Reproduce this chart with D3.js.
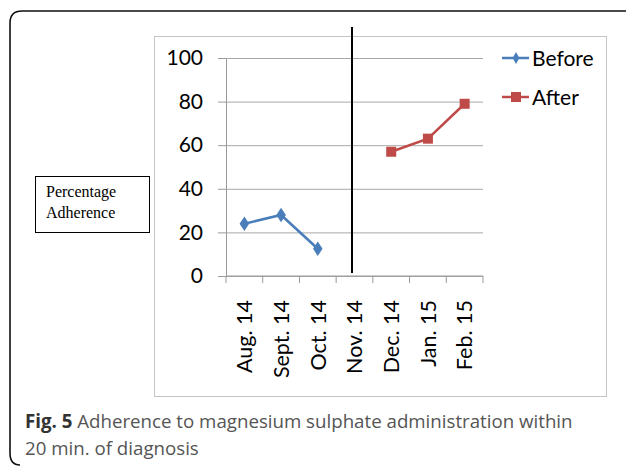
<!DOCTYPE html>
<html>
<head>
<meta charset="utf-8">
<script src="https://cdn.jsdelivr.net/npm/d3@7"></script>
<style>
    body { margin: 0; background: #fff; }
    text { font-family: Lato, "Open Sans", sans-serif; }
</style>
</head>
<body>
<div id="chart"></div>
<script>
const months = ["Aug. 14", "Sept. 14", "Oct. 14", "Nov. 14", "Dec. 14", "Jan. 15", "Feb. 15"];
const beforeMonths = ["Aug. 14", "Sept. 14", "Oct. 14"];
const beforeValues = [24, 28, 12.5];
const afterMonths = ["Dec. 14", "Jan. 15", "Feb. 15"];
const afterValues = [57, 63, 79];
const yTicks = [0, 20, 40, 60, 80, 100];
const dividerMonth = "Nov. 14";
const seriesNames = ["Before", "After"];

const seriesColor = d3.scaleOrdinal()
    .domain(seriesNames)
    .range(["#4a7ebb", "#be4b48"]);

const W = 627, H = 467;

let svg = d3.select("#chart").append("svg")
    .attr("width", W)
    .attr("height", H);

// outer figure frame (open on the right / bottom)
svg.append("path")
    .attr("d", "M626,11 L22,11 Q10,11 10,23 L10,453 Q10,465 20,465")
    .attr("fill", "none")
    .attr("stroke", "#111")
    .attr("stroke-width", 1.6);

// chart area frame
svg.append("rect")
    .attr("x", 154.5).attr("y", 36.5)
    .attr("width", 452).attr("height", 360)
    .attr("fill", "#fff")
    .attr("stroke", "#c4c4c4")
    .attr("stroke-width", 1);

let x = d3.scaleBand()
    .domain(months)
    .range([226, 483]);

let y = d3.scaleLinear()
    .domain([0, 100])
    .range([276, 58]);

// gridlines
svg.append("g")
    .attr("transform", "translate(226,0)")
    .call(d3.axisLeft(y).tickValues(yTicks).tickSize(-(483 - 226)).tickFormat(""))
    .call(g => g.select(".domain").remove())
    .call(g => g.selectAll("line").attr("stroke", "#a8a8a8"));

// y axis
svg.append("g")
    .attr("transform", "translate(226,0)")
    .call(d3.axisLeft(y).tickValues(yTicks).tickSize(8).tickPadding(15).tickSizeOuter(0))
    .call(g => g.select(".domain").attr("stroke", "#9a9a9a"))
    .call(g => g.selectAll("line").attr("stroke", "#9a9a9a"))
    .call(g => g.selectAll("text")
        .attr("fill", "#000")
        .style("font-size", "21px")
        .style("font-family", "Lato, sans-serif"));

// x axis line and ticks at band edges
svg.append("line")
    .attr("x1", 226).attr("x2", 483)
    .attr("y1", y(0)).attr("y2", y(0))
    .attr("stroke", "#9a9a9a");

let tickXs = months.map(m => x(m)).concat([x.range()[1]]);
svg.append("g")
    .selectAll("line")
    .data(tickXs)
    .join("line")
    .attr("x1", d => d).attr("x2", d => d)
    .attr("y1", y(0)).attr("y2", y(0) + 7)
    .attr("stroke", "#9a9a9a");

svg.append("g")
    .selectAll("text")
    .data(months)
    .join("text")
    .attr("transform", d => `translate(${x(d) + x.bandwidth() / 2}, 300) rotate(-90)`)
    .attr("text-anchor", "end")
    .attr("dy", "0.36em")
    .style("font-size", "21.5px")
    .text(d => d);

// divider line
svg.append("line")
    .attr("x1", x(dividerMonth) + x.bandwidth() / 2 - 2.5)
    .attr("x2", x(dividerMonth) + x.bandwidth() / 2 - 2.5)
    .attr("y1", 27).attr("y2", 273)
    .attr("stroke", "#000")
    .attr("stroke-width", 2);

let line = d3.line()
    .x(d => x(d.m) + x.bandwidth() / 2)
    .y(d => y(d.v));

let beforeData = beforeMonths.map((m, i) => ({ m: m, v: beforeValues[i] }));
let afterData = afterMonths.map((m, i) => ({ m: m, v: afterValues[i] }));

svg.append("path")
    .datum(beforeData)
    .attr("d", line)
    .attr("fill", "none")
    .attr("stroke", seriesColor("Before"))
    .attr("stroke-width", 2.5);

svg.append("g")
    .selectAll("path")
    .data(beforeData)
    .join("path")
    .attr("d", d3.symbol(d3.symbolDiamond, 60))
    .attr("transform", d => `translate(${x(d.m) + x.bandwidth() / 2}, ${y(d.v)}) scale(1.15,1)`)
    .attr("fill", seriesColor("Before"));

svg.append("path")
    .datum(afterData)
    .attr("d", line)
    .attr("fill", "none")
    .attr("stroke", seriesColor("After"))
    .attr("stroke-width", 2.5);

svg.append("g")
    .selectAll("rect")
    .data(afterData)
    .join("rect")
    .attr("x", d => x(d.m) + x.bandwidth() / 2 - 5)
    .attr("y", d => y(d.v) - 5)
    .attr("width", 10).attr("height", 10)
    .attr("fill", seriesColor("After"));

// legend
let legend = svg.append("g")
    .selectAll("g")
    .data(seriesNames)
    .join("g")
    .attr("transform", (d, i) => `translate(502, ${58 + i * 39})`);

legend.append("line")
    .attr("x1", 0).attr("x2", 27)
    .attr("stroke", d => seriesColor(d))
    .attr("stroke-width", 2.5);

legend.filter(d => d === "Before").append("path")
    .attr("d", d3.symbol(d3.symbolDiamond, 40))
    .attr("transform", "translate(14,0)")
    .attr("fill", seriesColor("Before"));

legend.filter(d => d === "After").append("rect")
    .attr("x", 9).attr("y", -5)
    .attr("width", 10).attr("height", 10)
    .attr("fill", seriesColor("After"));

legend.append("text")
    .attr("x", 30)
    .attr("dy", "0.36em")
    .style("font-size", "21px")
    .text(d => d);

// y label box
svg.append("rect")
    .attr("x", 35.5).attr("y", 176.5)
    .attr("width", 114).attr("height", 56)
    .attr("fill", "#fff")
    .attr("stroke", "#000");

svg.append("text")
    .attr("x", 46).attr("y", 197)
    .style("font-family", "'Liberation Serif', serif")
    .style("font-size", "16px")
    .text("Percentage");

svg.append("text")
    .attr("x", 46).attr("y", 218)
    .style("font-family", "'Liberation Serif', serif")
    .style("font-size", "16px")
    .text("Adherence");

// caption
let cap1 = svg.append("text")
    .attr("x", 25).attr("y", 428)
    .style("font-family", "'Open Sans', sans-serif")
    .style("font-size", "18.7px")
    .attr("fill", "#555");
cap1.append("tspan").attr("font-weight", "bold").attr("fill", "#333").text("Fig. 5");
cap1.append("tspan").text(" Adherence to magnesium sulphate administration within");

svg.append("text")
    .attr("x", 25).attr("y", 455)
    .style("font-family", "'Open Sans', sans-serif")
    .style("font-size", "18.7px")
    .attr("fill", "#555")
    .text("20 min. of diagnosis");
</script>
</body>
</html>
